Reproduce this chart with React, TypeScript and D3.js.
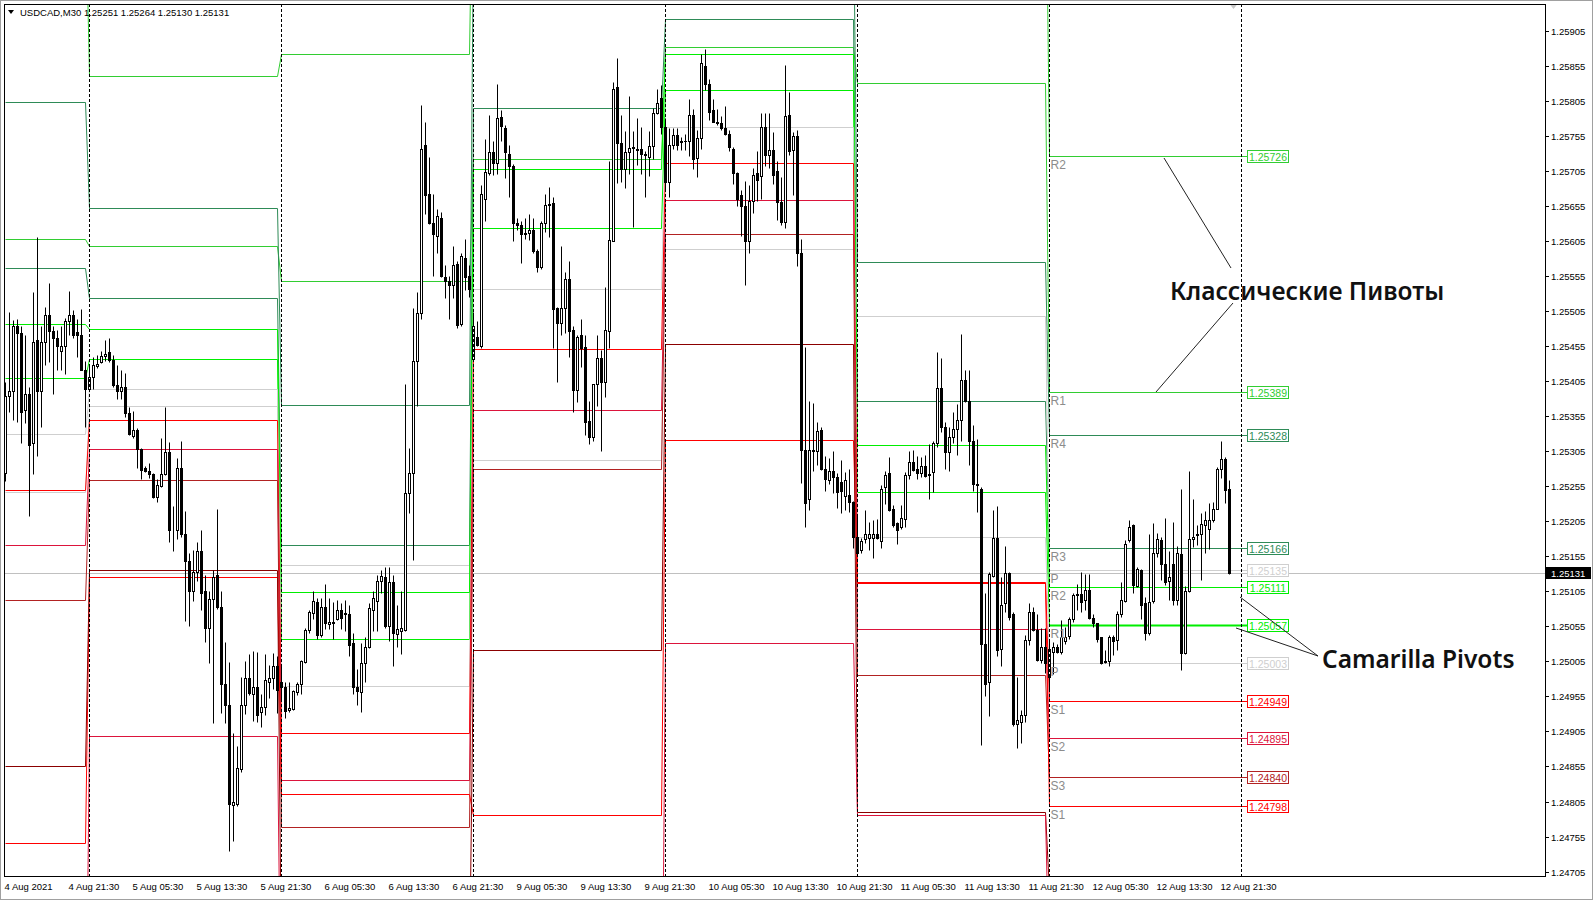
import React from 'react';
import * as d3 from 'd3';

// ---------- DATA (prices stored as points above 1.24000, 1 point = 0.00001) ----------
const BASE = 1.24;
const PT = 0.00001;

const aug4Bars = [
  [1273,1404,1262,1383],[1384,1503,1361,1390],[1390,1492,1350,1483],[1483,1493,1346,1474],
  [1474,1484,1317,1361],[1364,1470,1345,1386],[1386,1397,1213,1313],[1317,1532,1272,1461],
  [1463,1611,1298,1391],[1390,1484,1340,1461],[1461,1510,1428,1499],[1499,1545,1432,1476],
  [1476,1484,1386,1466],[1466,1477,1421,1455],[1448,1484,1421,1455],[1455,1495,1415,1490],
  [1490,1534,1470,1499],[1499,1506,1466,1470],[1475,1493,1439,1470],[1471,1508,1420,1421],
  [1421,1433,1339,1393],
];
const aug5Bars = [
  [1393,1426,1390,1410],[1410,1439,1393,1428],[1426,1442,1423,1429],[1432,1448,1430,1441],
  [1441,1464,1433,1443],[1446,1466,1432,1435],[1435,1442,1397,1399],[1399,1428,1379,1391],
  [1390,1420,1379,1396],[1396,1417,1353,1359],[1359,1368,1328,1329],[1326,1362,1323,1335],
  [1335,1338,1281,1308],[1308,1310,1265,1278],[1281,1284,1275,1276],[1277,1288,1266,1272],
  [1272,1273,1238,1239],[1239,1265,1233,1257],[1255,1324,1254,1272],[1272,1368,1271,1304],
  [1304,1318,1175,1192],[1192,1226,1162,1193],[1192,1295,1179,1281],[1281,1320,1182,1186],
  [1186,1219,1062,1148],[1148,1160,1055,1106],[1106,1164,1091,1133],[1133,1175,1120,1162],
  [1162,1192,1078,1102],[1106,1128,1032,1053],[1053,1106,1003,1094],[1094,1135,917,1126],
  [1128,1222,1080,1083],[1083,1106,931,973],[973,1033,917,942],[942,1004,735,802],
  [800,903,749,804],[802,884,799,853],[851,982,847,942],[942,1005,930,981],
  [981,1015,957,960],[959,1020,920,969],[969,1019,918,928],[933,959,911,940],
  [940,1015,928,978],[976,1000,953,981],[981,1017,966,998],[998,1013,931,964],
];
const aug6Bars = [
  [975,1001,950,968],[968,976,924,934],[935,975,933,938],[937,964,935,962],
  [961,975,957,972],[972,1007,959,1005],[1004,1052,1002,1050],[1050,1078,1045,1076],
  [1074,1105,1065,1091],[1090,1096,1037,1042],[1042,1096,1039,1082],[1083,1115,1051,1059],
  [1058,1096,1051,1061],[1059,1090,1037,1061],[1065,1093,1064,1078],[1078,1088,1051,1067],
  [1072,1093,1048,1074],[1072,1085,1012,1028],[1031,1045,959,968],[968,994,943,962],
  [961,1031,932,1002],[1002,1039,976,1026],[1026,1088,1024,1081],[1078,1106,1048,1095],
  [1091,1128,1048,1120],[1120,1135,1102,1127],[1125,1139,1053,1055],[1055,1139,1034,1118],
  [1118,1128,999,1046],[1044,1086,1026,1051],[1048,1106,1015,1053],[1050,1401,1048,1245],
  [1245,1309,1216,1273],[1273,1509,1150,1434],[1434,1532,1369,1502],[1502,1799,1493,1736],
  [1742,1775,1643,1670],[1672,1724,1629,1630],[1630,1672,1555,1614],[1612,1651,1587,1641],
  [1638,1646,1554,1555],[1553,1570,1523,1548],[1548,1555,1493,1542],[1542,1598,1523,1570],
  [1572,1576,1481,1485],[1486,1587,1484,1583],[1581,1608,1535,1554],[1555,1570,1525,1536],
];
const aug9Bars = [
  [1436,1503,1436,1484],[1468,1490,1455,1457],[1455,1684,1452,1672],[1665,1750,1633,1703],
  [1701,1784,1699,1731],[1731,1748,1699,1716],[1716,1829,1700,1780],[1782,1792,1748,1769],
  [1766,1770,1694,1731],[1729,1742,1667,1712],[1712,1714,1605,1630],[1630,1638,1621,1627],
  [1627,1633,1573,1614],[1616,1637,1607,1614],[1616,1643,1606,1621],[1621,1637,1587,1591],
  [1591,1593,1560,1568],[1568,1633,1565,1630],[1630,1672,1618,1656],[1656,1682,1611,1657],
  [1659,1668,1452,1508],[1509,1511,1404,1487],[1487,1597,1471,1509],[1509,1560,1474,1551],
  [1551,1576,1439,1476],[1478,1484,1360,1392],[1392,1471,1375,1468],[1470,1494,1425,1452],
  [1453,1471,1328,1347],[1348,1377,1315,1325],[1325,1401,1319,1400],[1400,1470,1369,1438],
  [1438,1449,1305,1404],[1404,1539,1382,1478],[1476,1719,1452,1606],[1605,1831,1604,1822],
  [1824,1866,1687,1745],[1745,1784,1689,1708],[1708,1761,1681,1732],[1731,1811,1700,1738],
  [1738,1761,1624,1739],[1736,1780,1713,1735],[1736,1767,1700,1729],[1729,1733,1667,1727],
  [1724,1761,1697,1740],[1740,1794,1721,1787],[1787,1821,1786,1802],[1808,1827,1757,1767],
];
const aug10Bars = [
  [1768,1780,1676,1689],[1689,1766,1667,1742],[1742,1766,1736,1756],[1756,1766,1735,1742],
  [1746,1753,1735,1748],[1748,1758,1735,1747],[1748,1807,1726,1785],[1785,1793,1708,1721],
  [1723,1763,1696,1751],[1751,1871,1736,1859],[1854,1879,1820,1829],[1829,1836,1777,1789],
  [1792,1807,1774,1775],[1775,1793,1770,1773],[1773,1783,1763,1766],[1766,1797,1756,1758],
  [1758,1763,1733,1739],[1736,1739,1686,1701],[1701,1703,1655,1665],[1670,1677,1612,1655],
  [1654,1690,1542,1605],[1605,1684,1587,1662],[1662,1709,1645,1699],[1701,1733,1662,1692],
  [1698,1787,1665,1768],[1768,1787,1711,1728],[1728,1787,1709,1735],[1734,1760,1686,1699],
  [1704,1719,1634,1661],[1661,1696,1628,1632],[1632,1856,1623,1783],[1785,1817,1728,1733],
  [1735,1760,1670,1755],[1755,1763,1569,1588],[1588,1607,1259,1306],[1306,1453,1196,1231],
  [1237,1376,1221,1306],[1306,1374,1277,1305],[1305,1347,1285,1333],[1335,1340,1278,1280],
  [1280,1298,1248,1265],[1263,1295,1258,1277],[1277,1305,1245,1268],[1268,1273,1224,1246],
  [1261,1292,1216,1248],[1241,1275,1221,1263],[1243,1280,1218,1232],[1232,1234,1167,1182],
];
const aug11Bars = [
  [1182,1214,1156,1160],[1164,1181,1160,1177],[1179,1221,1174,1187],[1181,1204,1164,1187],
  [1181,1206,1152,1186],[1186,1208,1180,1181],[1177,1257,1167,1251],[1253,1277,1230,1271],
  [1273,1297,1219,1221],[1223,1228,1197,1199],[1203,1204,1172,1192],[1196,1228,1194,1210],
  [1208,1275,1196,1271],[1271,1305,1265,1290],[1290,1306,1277,1278],[1280,1298,1265,1273],
  [1273,1297,1268,1284],[1284,1300,1268,1270],[1271,1315,1236,1272],[1275,1320,1246,1317],
  [1317,1447,1311,1395],[1395,1438,1332,1339],[1340,1347,1280,1304],[1304,1339,1277,1325],
  [1325,1360,1317,1337],[1337,1372,1300,1349],[1349,1472,1319,1406],[1406,1421,1375,1376],
  [1376,1420,1285,1319],[1319,1342,1248,1258],[1258,1322,1218,1257],[1251,1253,886,1030],
  [1030,1103,956,972],[975,1133,927,1129],[1127,1221,1125,1181],[1181,1226,1012,1021],
  [1022,1125,999,1086],[1088,1169,1076,1131],[1131,1133,1064,1068],[1073,1075,913,915],
  [916,983,881,921],[918,935,888,929],[928,1043,918,1036],[1036,1088,1028,1076],
  [1076,1083,1048,1049],[1049,1073,1006,1007],[1007,1053,1003,1026],[1026,1053,989,1002],
];
const aug12Bars = [
  [983,1035,966,1023],[1018,1033,987,1026],[1026,1030,1017,1018],[1018,1064,1016,1039],
  [1034,1054,1030,1040],[1041,1068,1037,1065],[1065,1102,1061,1099],[1099,1116,1078,1101],
  [1101,1133,1075,1090],[1092,1129,1078,1107],[1107,1129,1066,1067],[1067,1072,1054,1060],
  [1059,1060,1033,1037],[1039,1040,1001,1003],[1004,1021,1002,1006],[1006,1042,999,1040],
  [1040,1042,1014,1034],[1035,1077,1021,1072],[1072,1118,1068,1092],[1091,1178,1090,1173],
  [1178,1206,1175,1197],[1199,1201,1102,1114],[1112,1140,1111,1137],[1136,1137,1065,1086],
  [1088,1097,1036,1045],[1045,1187,1042,1090],[1091,1202,1088,1159],[1159,1188,1154,1180],
  [1178,1183,1121,1144],[1144,1210,1114,1118],[1120,1163,1092,1125],[1144,1204,1085,1092],
  [1092,1169,1085,1159],[1158,1251,993,1017],[1017,1113,1016,1106],[1105,1277,1104,1180],
  [1180,1237,1168,1183],[1185,1199,1171,1187],[1186,1216,1121,1201],[1199,1220,1159,1206],
  [1194,1231,1165,1206],[1206,1232,1204,1223],[1223,1282,1222,1280],[1280,1320,1266,1294],
  [1294,1296,1231,1249],[1251,1264,1130,1131],
];

// first and last bar index of each trading day, day separators (bar index of 00:00)
const dayFirstBar = [0, 21, 69, 117, 165, 213, 261];
const dayLastBar = [20, 68, 116, 164, 212, 260, 306];
const separatorBars = [21, 69, 117, 165, 213, 261, 309];

// daily pivot levels (points above 1.24000), one value per day: 4,5,6,9,10,11,12 Aug
// classic pivots
const classicR2 = [2108, 1840, 1872, 2228, 2157, 2210, 1726];
const classicR1 = [1607, 1597, 1547, 1721, 1882, 1830, 1389];
const classicP  = [1246, 1369, 1142, 1292, 1593, 1498, 1135];
const classicS1 = [746, 1126, 815, 786, 1321, 1117, 798];
const classicS2 = [384, 899, 411, 356, 1031, 786, 544];
// camarilla pivots
const camR4 = [1803, 1652, 1371, 2051, 2078, 1575, 1328];
const camR3 = [1566, 1524, 1171, 1794, 1922, 1377, 1166];
const camR2 = [1486, 1479, 1104, 1708, 1871, 1313, 1111];
const camR1 = [1409, 1436, 1037, 1623, 1820, 1247, 1057];
const camP  = [1329, 1393, 970, 1536, 1768, 1182, 1003];
const camS1 = [1250, 1350, 903, 1451, 1716, 1118, 949];
const camS2 = [1171, 1308, 835, 1364, 1663, 1051, 895];
const camS3 = [1093, 1263, 769, 1280, 1614, 986, 840];
const camS4 = [855, 1135, 562, 1021, 1458, 790, 678];

const priceTicks = ['1.24705','1.24755','1.24805','1.24855','1.24905','1.24955','1.25005','1.25055','1.25105','1.25155','1.25205','1.25255','1.25305','1.25355','1.25405','1.25455','1.25505','1.25555','1.25605','1.25655','1.25705','1.25755','1.25805','1.25855','1.25905'];
const timeLabels = ['4 Aug 2021','4 Aug 21:30','5 Aug 05:30','5 Aug 13:30','5 Aug 21:30','6 Aug 05:30','6 Aug 13:30','6 Aug 21:30','9 Aug 05:30','9 Aug 13:30','9 Aug 21:30','10 Aug 05:30','10 Aug 13:30','10 Aug 21:30','11 Aug 05:30','11 Aug 13:30','11 Aug 21:30','12 Aug 05:30','12 Aug 13:30','12 Aug 21:30'];
const timeLabelStep = 16;

const symbolText = 'USDCAD,M30';
const lastBarText = '1.25251 1.25264 1.25130 1.25131';
const bidPrice = 1.25131;

const COLORS: Record<string, string> = {
  lime: '#00EE00', lg: '#32CD32', sg: '#2E8B57', grey: '#CFCFCF',
  red: '#FF0000', crimson: '#DC143C', fb: '#B22222', dr: '#8B0000',
};

const SERIES = [
  { name: 'R2', vals: classicR2, c: 'lg', w: 1 },
  { name: 'R1', vals: classicR1, c: 'lg', w: 1 },
  { name: 'R4', vals: camR4, c: 'sg', w: 1 },
  { name: 'R3', vals: camR3, c: 'sg', w: 1 },
  { name: 'P', vals: classicP, c: 'grey', w: 1 },
  { name: 'R2', vals: camR2, c: 'lime', w: 1 },
  { name: 'R1', vals: camR1, c: 'lime', w: 1 },
  { name: 'P', vals: camP, c: 'grey', w: 1 },
  { name: 'S1', vals: camS1, c: 'red', w: 1 },
  { name: 'S2', vals: camS2, c: 'crimson', w: 1 },
  { name: 'S3', vals: camS3, c: 'fb', w: 1 },
  { name: 'S1', vals: classicS1, c: 'red', w: 1 },
  { name: 'S4', vals: camS4, c: 'dr', w: 1 },
  { name: 'S2', vals: classicS2, c: 'crimson', w: 1 },
];

// ---------- LAYOUT ----------
const W = 1593, H = 900;
const L = 4, T = 4, R = 1545, B = 876;
const FONT = '"Liberation Sans", Arial, sans-serif';

export default function App() {
  const bars = [...aug4Bars, ...aug5Bars, ...aug6Bars, ...aug9Bars, ...aug10Bars, ...aug11Bars, ...aug12Bars];

  const xScale = d3.scaleLinear().domain([0, 1]).range([5.4, 9.4]);
  const yScale = d3.scaleLinear().domain([1.24705, 1.25905]).range([871.6, 30.5]);
  const xs = (i: number) => Math.round(xScale(i)) + 0.5;
  const yv = (v: number) => yScale(BASE + v * PT);
  const yc = (v: number) => Math.round(yv(v)) + 0.5;

  const lastDayEndX = Math.round(xScale(310.5)) + 0.5;
  const boxW = 41;
  const lastDay = dayFirstBar.length - 1;

  const lineGen = d3.line<[number, number]>().x((d) => d[0]).y((d) => d[1]);
  const seriesPath = (vals: number[]) => {
    const pts: [number, number][] = [];
    vals.forEach((v, d) => {
      pts.push([xs(dayFirstBar[d]), yc(v)]);
      pts.push([d === lastDay ? lastDayEndX : xs(dayLastBar[d]), yc(v)]);
    });
    return lineGen(pts) || '';
  };

  // only levels visible on the last day get a name and a price box
  const visibleLast = SERIES.filter((s) => {
    const y = yv(s.vals[lastDay]);
    return y > T + 8 && y < B - 8;
  });

  const bidY = Math.round(yScale(bidPrice)) + 0.5;

  return (
    <svg width={W} height={H} style={{ position: 'fixed', left: 0, top: 0, background: '#fff' }} fontFamily={FONT}>
      <defs>
        <clipPath id="plot"><rect x={L} y={T} width={R - L} height={B - T} /></clipPath>
      </defs>
      <rect x={0} y={0} width={W} height={H} fill="#fff" />
      <rect x={0.5} y={0.5} width={W - 1} height={H - 1} fill="none" stroke="#A0A0A0" />

      <g clipPath="url(#plot)">
        <line x1={L} x2={R} y1={bidY} y2={bidY} stroke="#C0C0C0" />
        {SERIES.map((s, k) => (
          <path key={`p${k}`} d={seriesPath(s.vals)} fill="none" stroke={COLORS[s.c]} strokeWidth={s.w} />
        ))}
        <line x1={xs(dayFirstBar[lastDay])} x2={lastDayEndX} y1={yc(camR1[lastDay])} y2={yc(camR1[lastDay])} stroke={COLORS.lime} strokeWidth={2} />
        {bars.map((b, i) => {
          const [o, h, l, c] = b;
          const x = xs(i);
          const top = yc(Math.max(o, c));
          const bot = yc(Math.min(o, c));
          const bull = c >= o;
          return (
            <g key={i}>
              <line x1={x} x2={x} y1={yc(h)} y2={yc(l)} stroke="#000" />
              {bull ? (
                <rect x={x - 1} y={top} width={2} height={Math.max(bot - top, 0)} fill="#fff" stroke="#000" />
              ) : (
                <rect x={x - 1.5} y={top - 0.5} width={3} height={Math.max(bot - top, 0) + 1} fill="#000" />
              )}
            </g>
          );
        })}
        {visibleLast.map((s, k) => (
          <text key={`n${k}`} x={xs(dayFirstBar[lastDay]) + 1} y={yc(s.vals[lastDay]) + 12} fontSize={12} fill="#8C8C8C">{s.name}</text>
        ))}
        {separatorBars.map((bi) => (
          <line key={`s${bi}`} x1={xs(bi)} x2={xs(bi)} y1={T} y2={B} stroke="#000" strokeDasharray="3,2" />
        ))}
        {visibleLast.map((s, k) => {
          const y = yc(s.vals[lastDay]);
          const col = COLORS[s.c];
          return (
            <g key={`b${k}`}>
              <rect x={lastDayEndX} y={y - 6} width={boxW} height={12} fill="#fff" stroke={col} />
              <text x={lastDayEndX + boxW / 2} y={y + 4} fontSize={10.5} fill={col} textAnchor="middle">{(BASE + s.vals[lastDay] * PT).toFixed(5)}</text>
            </g>
          );
        })}
        <path d={`M${xs(307) - 4},${T} L${xs(307) + 4},${T} L${xs(307)},${T + 5} Z`} fill="#C8C8C8" />
      </g>

      {/* annotations */}
      <text x={1170} y={300} fontSize={24.5} fontWeight={600} fontFamily='"Noto Sans", sans-serif' fill="#111">Классические Пивоты</text>
      <line x1={1164} y1={158} x2={1231} y2={268} stroke="#222" />
      <line x1={1233} y1={303} x2={1156} y2={392} stroke="#222" />
      <text x={1322} y={668} fontSize={24.5} fontWeight={600} fontFamily='"Noto Sans", sans-serif' fill="#111">Camarilla Pivots</text>
      <line x1={1240} y1={597} x2={1318} y2={656} stroke="#222" />
      <line x1={1236} y1={628} x2={1318} y2={656} stroke="#222" />

      <rect x={L + 0.5} y={T + 0.5} width={R - L} height={B - T} fill="none" stroke="#000" />

      <path d="M8,10 L14,10 L11,14 Z" fill="#000" />
      <text x={20} y={16} fontSize={9.5} fill="#000">{symbolText} {lastBarText}</text>

      {priceTicks.map((t) => {
        const y = Math.round(yScale(+t)) + 0.5;
        return (
          <g key={t}>
            <line x1={R + 0.5} x2={R + 4} y1={y} y2={y} stroke="#000" />
            <text x={R + 6} y={y + 3.5} fontSize={9.5} fill="#000">{t}</text>
          </g>
        );
      })}
      <rect x={R + 1} y={bidY - 6.5} width={W - R - 3} height={12} fill="#000" />
      <text x={R + 6} y={bidY + 3.5} fontSize={9.5} fill="#fff">{bidPrice.toFixed(5)}</text>

      {timeLabels.map((t, k) => (
        <text key={t} x={xs(k * timeLabelStep) - 1} y={890} fontSize={9.5} fill="#000">{t}</text>
      ))}
    </svg>
  );
}
